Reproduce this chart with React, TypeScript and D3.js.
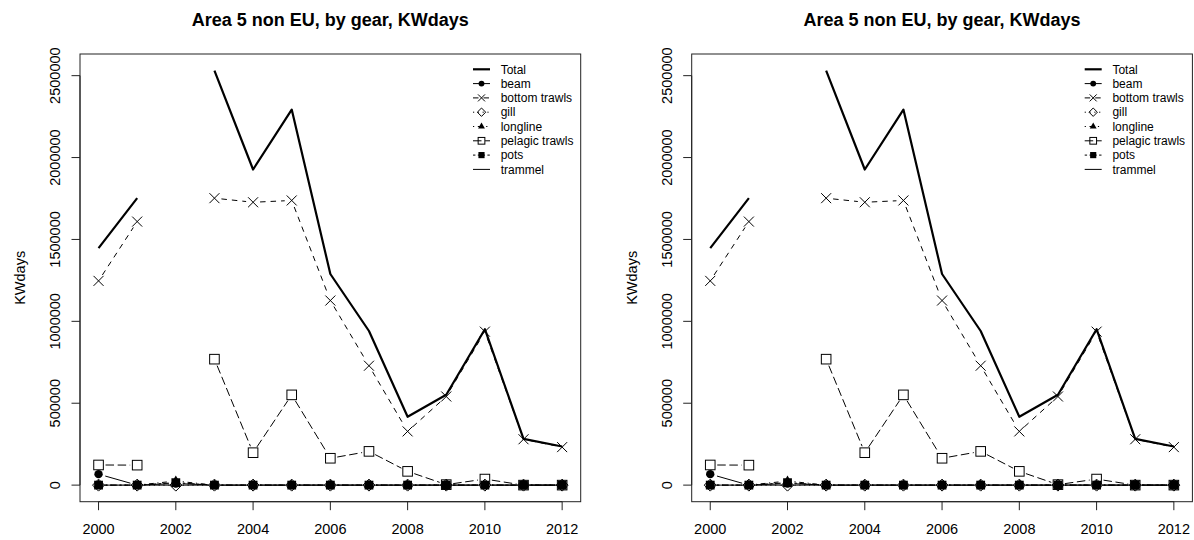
import React from "react";
import * as d3 from "d3";

const years = [2000, 2001, 2002, 2003, 2004, 2005, 2006, 2007, 2008, 2009, 2010, 2011, 2012];
const total = [1447000, 1752000, null, 2531000, 1927000, 2293000, 1289000, 941000, 417000, 552000, 952000, 282000, 236000];
const beam = [67000, 0, 10000, 0, 0, 0, 0, 0, 0, 0, 0, 0, 0];
const bottomTrawls = [1247000, 1609000, null, 1752000, 1727000, 1738000, 1127000, 729000, 328000, 541000, 937000, 280000, 232000];
const gill = [0, 0, 0, 0, 0, 0, 0, 0, 0, 0, 0, 0, 0];
const longline = [0, 0, 25000, 0, 0, 0, 0, 0, 0, 0, 0, 0, 0];
const pelagicTrawls = [123000, 122000, null, 769000, 198000, 551000, 164000, 206000, 84000, 3000, 37000, 0, 0];
const pots = [0, 0, 15000, 0, 0, 0, 0, 0, 0, 0, 0, 0, 0];
const trammel = [0, 0, 0, 0, 0, 0, 0, 0, 0, 0, 0, 0, 0];

const legendLabels = ["Total", "beam", "bottom trawls", "gill", "longline", "pelagic trawls", "pots", "trammel"];
const xTicks = [2000, 2002, 2004, 2006, 2008, 2010, 2012];
const yTicks = [0, 500000, 1000000, 1500000, 2000000, 2500000];
const titleText = "Area 5 non EU, by gear, KWdays";
const yLabelText = "KWdays";

type Sym = "none" | "circle" | "cross" | "diamond" | "triangle" | "square" | "fsquare";
interface SeriesDef { name: string; values: (number | null)[]; dash: string; width: number; sym: Sym; typeB: boolean; }

const series: SeriesDef[] = [
  { name: legendLabels[0], values: total, dash: "none", width: 2.2, sym: "none", typeB: false },
  { name: legendLabels[1], values: beam, dash: "none", width: 1, sym: "circle", typeB: true },
  { name: legendLabels[2], values: bottomTrawls, dash: "5.5,5", width: 1, sym: "cross", typeB: true },
  { name: legendLabels[3], values: gill, dash: "1.2,3.6", width: 1, sym: "diamond", typeB: true },
  { name: legendLabels[4], values: longline, dash: "1.2,3.6,4.8,3.6", width: 1, sym: "triangle", typeB: true },
  { name: legendLabels[5], values: pelagicTrawls, dash: "8.5,3.6", width: 1, sym: "square", typeB: true },
  { name: legendLabels[6], values: pots, dash: "2.4,2.4,7.2,2.4", width: 1, sym: "fsquare", typeB: true },
  { name: legendLabels[7], values: trammel, dash: "none", width: 1, sym: "none", typeB: false },
];

const FONT = "'Liberation Sans', Arial, Helvetica, sans-serif";
const box = { left: 80, right: 580.7, top: 54, bottom: 501.7 };

function Marker({ sym, x, y, s = 1 }: { sym: Sym; x: number; y: number; s?: number }) {
  if (sym === "circle") return <circle cx={x} cy={y} r={4.2 * s} fill="#000" />;
  if (sym === "cross") {
    const h = 5 * s;
    return (
      <path d={`M${x - h},${y - h}L${x + h},${y + h}M${x - h},${y + h}L${x + h},${y - h}`} stroke="#000" strokeWidth={1} fill="none" />
    );
  }
  if (sym === "diamond") {
    const h = 6 * s;
    return <path d={`M${x},${y - h}L${x + h},${y}L${x},${y + h}L${x - h},${y}Z`} stroke="#000" strokeWidth={1} fill="none" />;
  }
  if (sym === "triangle") {
    const h = 5.6 * s;
    return <path d={`M${x},${y - h}L${x + h * 0.87},${y + h * 0.5}L${x - h * 0.87},${y + h * 0.5}Z`} fill="#000" />;
  }
  if (sym === "square") {
    const h = 4.8 * s;
    return <rect x={x - h} y={y - h} width={2 * h} height={2 * h} stroke="#000" strokeWidth={1} fill="none" />;
  }
  if (sym === "fsquare") {
    const h = 4.4 * s;
    return <rect x={x - h} y={y - h} width={2 * h} height={2 * h} fill="#000" />;
  }
  return null;
}

function Panel({ dx }: { dx: number }) {
  const x = d3.scaleLinear().domain([2000 - 0.48, 2012 + 0.48]).range([box.left, box.right]);
  const allVals = series.flatMap((s) => s.values.filter((v) => v !== null) as number[]);
  const ymin = d3.min(allVals) as number;
  const ymax = d3.max(allVals) as number;
  const pad = (ymax - ymin) * 0.04;
  const y = d3.scaleLinear().domain([ymin - pad, ymax + pad]).range([box.bottom, box.top]);
  const gap = 7;
  const cx = (box.left + box.right) / 2;
  const cy = (box.top + box.bottom) / 2;

  return (
    <g transform={`translate(${dx},0)`}>
      <text x={cx} y={26} textAnchor="middle" fontFamily={FONT} fontWeight="bold" fontSize={18} fill="#000">{titleText}</text>
      <text transform={`translate(25,${cy}) rotate(-90)`} textAnchor="middle" fontFamily={FONT} fontSize={14.5} fill="#000">{yLabelText}</text>
      {series.map((s, si) => {
        const pts = years.map((yr, i) => ({ yr, v: s.values[i] }));
        const elems: React.ReactNode[] = [];
        if (!s.typeB) {
          const line = d3.line<{ yr: number; v: number | null }>()
            .defined((d) => d.v !== null)
            .x((d) => x(d.yr))
            .y((d) => y(d.v as number));
          elems.push(
            <path key="l" d={line(pts) || ""} fill="none" stroke="#000" strokeWidth={s.width}
              strokeDasharray={s.dash} strokeLinejoin="round" />
          );
        } else {
          for (let i = 0; i < pts.length - 1; i++) {
            const a = pts[i], b = pts[i + 1];
            if (a.v === null || b.v === null) continue;
            const x1 = x(a.yr), y1 = y(a.v), x2 = x(b.yr), y2 = y(b.v);
            const len = Math.hypot(x2 - x1, y2 - y1);
            if (len <= 2 * gap) continue;
            const ux = (x2 - x1) / len, uy = (y2 - y1) / len;
            elems.push(
              <line key={`s${i}`} x1={x1 + ux * gap} y1={y1 + uy * gap} x2={x2 - ux * gap} y2={y2 - uy * gap}
                stroke="#000" strokeWidth={s.width} strokeDasharray={s.dash} />
            );
          }
          pts.forEach((p, i) => {
            if (p.v === null) return;
            elems.push(<Marker key={`m${i}`} sym={s.sym} x={x(p.yr)} y={y(p.v)} />);
          });
        }
        return <g key={si}>{elems}</g>;
      })}
      <rect x={box.left} y={box.top} width={box.right - box.left} height={box.bottom - box.top} fill="none" stroke="#222" strokeWidth={1} />
      <line x1={x(xTicks[0])} x2={x(xTicks[xTicks.length - 1])} y1={box.bottom} y2={box.bottom} stroke="#222" />
      {xTicks.map((t) => (
        <g key={t}>
          <line x1={x(t)} x2={x(t)} y1={box.bottom} y2={box.bottom + 8.5} stroke="#222" />
          <text x={x(t)} y={534} textAnchor="middle" fontFamily={FONT} fontSize={14.5} fill="#000">{t}</text>
        </g>
      ))}
      <line x1={box.left} x2={box.left} y1={y(yTicks[0])} y2={y(yTicks[yTicks.length - 1])} stroke="#222" />
      {yTicks.map((t) => (
        <g key={t}>
          <line x1={box.left - 8.5} x2={box.left} y1={y(t)} y2={y(t)} stroke="#222" />
          <text transform={`translate(60,${y(t)}) rotate(-90)`} textAnchor="middle" fontFamily={FONT} fontSize={14.5} fill="#000">{t}</text>
        </g>
      ))}
      {series.map((s, i) => {
        const ly = 69.3 + i * 14.3;
        return (
          <g key={`lg${i}`}>
            <line x1={473} x2={490} y1={ly} y2={ly} stroke="#000" strokeWidth={s.width} strokeDasharray={s.dash} />
            <Marker sym={s.sym} x={481.5} y={ly} s={0.7} />
            <text x={500.7} y={ly + 4.2} fontFamily={FONT} fontSize={12} fill="#000">{s.name}</text>
          </g>
        );
      })}
    </g>
  );
}

export default function App() {
  return (
    <svg width={1194} height={540} style={{ position: "absolute", left: 0, top: 0, background: "#fff" }}>
      <rect x={0} y={0} width={1194} height={540} fill="#fff" />
      <Panel dx={0} />
      <Panel dx={611.7} />
    </svg>
  );
}
